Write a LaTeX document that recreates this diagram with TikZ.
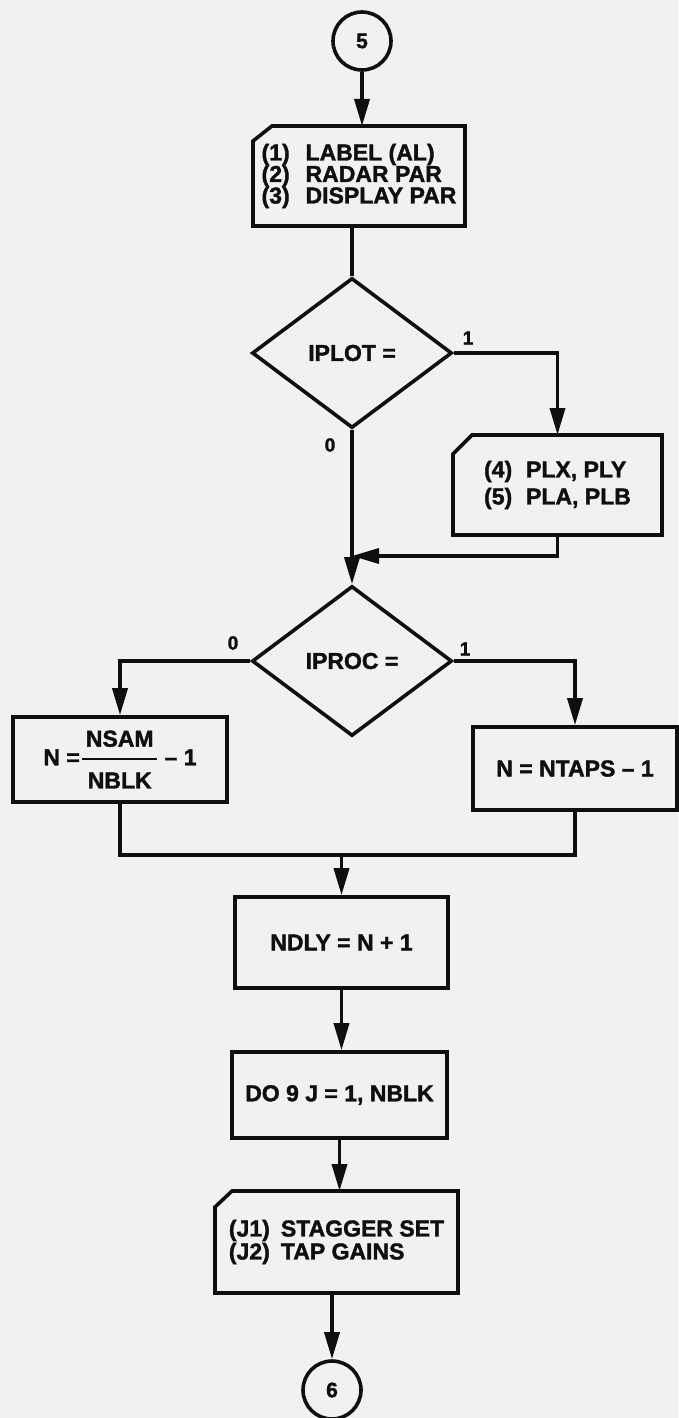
\documentclass[tikz,border=0pt]{standalone}
\usepackage{amsmath}
\usepackage{fontspec}
\setmainfont{Liberation Sans}[BoldFeatures={FakeBold=1.6}]
\usetikzlibrary{arrows.meta,shapes.geometric,calc}
\definecolor{bg}{RGB}{241,241,239}
\definecolor{ink}{RGB}{15,15,15}
\begin{document}
\begin{tikzpicture}[x=1pt,y=-1pt,
  every node/.style={font=\bfseries\fontsize{23}{23}\selectfont, text=ink},
  line/.style={draw=ink, line width=3.6pt},
  arr/.style={line, -{Triangle[length=27pt,width=15pt]}},
  procbox/.style={rectangle, draw=ink, line width=3.6pt, inner sep=0pt},
  iobox/.style={rectangle, draw=none, inner sep=0pt, outer sep=0pt},
  decision/.style={diamond, draw=ink, line width=3.6pt, inner sep=0pt,
    minimum width=200pt, minimum height=150pt},
  connector/.style={circle, draw=ink, line width=3.6pt, minimum size=58pt,
    inner sep=0pt, font=\bfseries\fontsize{21}{21}\selectfont},
  branch/.style={font=\bfseries\fontsize{19}{19}\selectfont},
]
\fill[bg] (0,0) rectangle (678,1418);
\useasboundingbox (0,0) rectangle (678,1418);

% nodes
\node[connector] (c5) at (362,41) {5};
\node[iobox, minimum width=212pt, minimum height=100pt, align=left,
  font=\bfseries\fontsize{23}{21.5}\selectfont] (b1) at (359,176)
  {\makebox[44pt][l]{(1)}LABEL (AL)\\\makebox[44pt][l]{(2)}RADAR PAR\\\makebox[44pt][l]{(3)}DISPLAY PAR};
\node[decision] (d1) at (352,353) {IPLOT =};
\node[iobox, minimum width=209pt, minimum height=100pt, align=left,
  font=\bfseries\fontsize{23}{27}\selectfont] (b2) at (557.5,485)
  {\makebox[42pt][l]{(4)}PLX, PLY\\\makebox[42pt][l]{(5)}PLA, PLB};
\node[decision] (d2) at (352,661) {IPROC =};
\node[procbox, minimum width=214pt, minimum height=85pt] (b3) at (120,759.5)
  {N =\hspace{1pt}$\genfrac{}{}{2.4pt}{0}{\text{\,NSAM\,\rule[-4pt]{0pt}{4pt}}}{\text{\rule{0pt}{21pt}NBLK}}$\hspace{6pt}-- 1};
\node[procbox, minimum width=204pt, minimum height=83pt] (b4) at (575,768.5)
  {N = NTAPS -- 1};
\node[procbox, minimum width=213pt, minimum height=91pt] (b5) at (341.5,942.5)
  {NDLY = N + 1};
\node[procbox, minimum width=215pt, minimum height=86pt] (b6) at (339.5,1095)
  {DO 9 J = 1, NBLK};
\node[iobox, minimum width=243pt, minimum height=102pt, align=left,
  font=\bfseries\fontsize{23}{23}\selectfont] (b7) at (336.5,1242)
  {\makebox[52pt][l]{(J1)}STAGGER SET\\\makebox[52pt][l]{(J2)}TAP GAINS};
\node[connector] (c6) at (332,1390) {6};

% chamfered input/output boxes
\draw[line] ([yshift=-15pt]b1.north west) -- ([xshift=19pt]b1.north west)
  -- (b1.north east) -- (b1.south east) -- (b1.south west) -- cycle;
\draw[line] ([yshift=-19pt]b2.north west) -- ([xshift=19pt]b2.north west)
  -- (b2.north east) -- (b2.south east) -- (b2.south west) -- cycle;
\draw[line] ([yshift=-16pt]b7.north west) -- ([xshift=17pt]b7.north west)
  -- (b7.north east) -- (b7.south east) -- (b7.south west) -- cycle;

% branch labels
\node[branch] (l1a) at (468,338) {1};
\node[branch] (l0a) at (330,445) {0};
\node[branch] (l0b) at (233,643) {0};
\node[branch] (l1b) at (465,649) {1};

% connectors
\coordinate (jy) at (0,556);
\coordinate (m) at (341.5,855);
\draw[arr] (c5) -- (c5 |- b1.north);
\draw[line] (d1.north |- b1.south) -- (d1.north);
\draw[arr] (d1.east) -| (b2.north);
\draw[arr] (d1.south) -- (d2.north);
\draw[arr] (b2.south) |- (d1.south |- jy);
\draw[arr] (d2.west) -| (b3.north);
\draw[arr] (d2.east) -| (b4.north);
\draw[line] (b3.south) |- (m) -| (b4.south);
\draw[arr] (m) -- (b5.north);
\draw[arr] (b5.south) -- (b5.south |- b6.north);
\draw[arr] (b6.south) -- (b6.south |- b7.north);
\draw[arr] (c6.north |- b7.south) -- (c6.north);
\end{tikzpicture}
\end{document}
